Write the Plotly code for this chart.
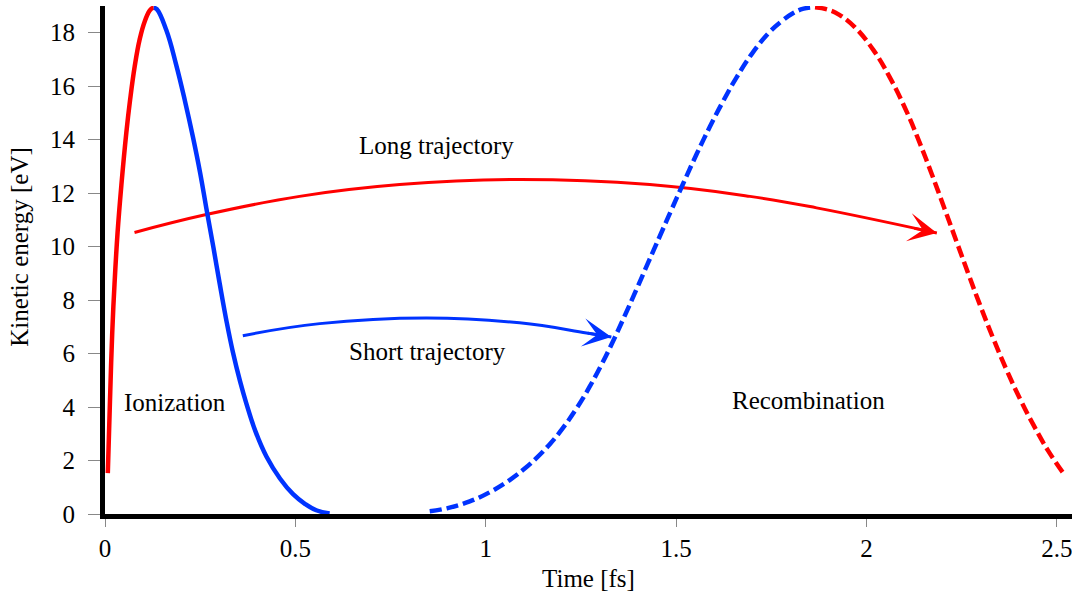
import plotly.graph_objects as go

# ---- data ----
red_solid_x = [0.0074, 0.013, 0.019, 0.025, 0.033, 0.043, 0.056, 0.066, 0.078, 0.091, 0.105, 0.117, 0.123, 0.128]
red_solid_y = [1.53, 4.2, 6.78, 8.6, 10.52, 12.3, 14.26, 15.5, 16.74, 17.75, 18.45, 18.82, 18.91, 18.93]

blue_solid_x = [0.128, 0.136, 0.161, 0.187, 0.21, 0.231, 0.25, 0.266, 0.285, 0.301, 0.32,
                0.336, 0.355, 0.371, 0.395, 0.424, 0.46, 0.494, 0.525, 0.555, 0.59]
blue_solid_y = [18.93, 18.88, 18.1, 16.8, 15.45, 14.1, 12.75, 11.45, 9.95, 8.64, 7.15,
                6.05, 4.95, 4.15, 3.1, 2.15, 1.32, 0.74, 0.38, 0.14, 0.02]

blue_dash_x = [0.853, 0.9, 0.958, 1.01, 1.063, 1.1, 1.133, 1.17, 1.203, 1.24, 1.273, 1.305,
               1.335, 1.365, 1.396, 1.427, 1.457, 1.488, 1.519, 1.555, 1.589, 1.624, 1.659,
               1.70, 1.746, 1.78, 1.808, 1.835, 1.865]
blue_dash_y = [0.10, 0.22, 0.47, 0.81, 1.27, 1.67, 2.09, 2.64, 3.22, 3.98, 4.76, 5.61,
               6.48, 7.41, 8.40, 9.41, 10.38, 11.38, 12.37, 13.49, 14.49, 15.45, 16.33,
               17.23, 18.03, 18.46, 18.74, 18.9, 18.95]

red_dash_x = [1.865, 1.90, 1.929, 1.97, 2.018, 2.06, 2.106, 2.14, 2.172, 2.205, 2.237,
              2.268, 2.298, 2.333, 2.369, 2.404, 2.438, 2.478, 2.517]
red_dash_y = [18.95, 18.86, 18.67, 18.2, 17.36, 16.37, 15.04, 13.88, 12.7, 11.43, 10.18,
              8.97, 7.83, 6.57, 5.36, 4.29, 3.35, 2.35, 1.53]

long_arrow_x = [0.0775, 0.266, 0.511, 0.774, 1.081, 1.431, 1.694, 1.869, 2.185]
long_arrow_y = [10.53, 11.2, 11.88, 12.32, 12.51, 12.32, 11.88, 11.45, 10.51]

short_arrow_x = [0.362, 0.564, 0.844, 1.089, 1.265, 1.330]
short_arrow_y = [6.67, 7.12, 7.33, 7.15, 6.77, 6.62]

x_ticks = [0, 0.5, 1, 1.5, 2, 2.5]
x_tick_labels = ["0", "0.5", "1", "1.5", "2", "2.5"]
y_ticks = [0, 2, 4, 6, 8, 10, 12, 14, 16, 18]

labels = ["Long trajectory", "Short trajectory", "Ionization", "Recombination"]
label_x = [0.870, 0.846, 0.185, 1.849]
label_y = [13.78, 6.07, 4.18, 4.24]

RED = "#FF0000"
BLUE = "#0033FF"
FONT = "Times New Roman, Liberation Serif, serif"

fig = go.Figure()

def add_line(x, y, color, width, dash="solid"):
    fig.add_trace(go.Scatter(x=x, y=y, mode="lines",
                             line=dict(color=color, width=width, dash=dash, shape="spline", smoothing=1.2),
                             showlegend=False, hoverinfo="skip"))

add_line(long_arrow_x, long_arrow_y, RED, 3)
add_line(short_arrow_x, short_arrow_y, BLUE, 3)
add_line(red_solid_x, red_solid_y, RED, 4.5)
add_line(blue_solid_x, blue_solid_y, BLUE, 4.5)
add_line(blue_dash_x, blue_dash_y, BLUE, 4.5, "12px,5px")
add_line(red_dash_x, red_dash_y, RED, 4.5, "12px,5px")

# arrow heads
fig.add_annotation(x=long_arrow_x[-1], y=long_arrow_y[-1], ax=-24, ay=-5,
                   xref="x", yref="y", showarrow=True, arrowhead=3, arrowsize=1.7,
                   arrowwidth=2.8, arrowcolor=RED, text="", standoff=0)
fig.add_annotation(x=short_arrow_x[-1], y=short_arrow_y[-1], ax=-25, ay=-4,
                   xref="x", yref="y", showarrow=True, arrowhead=3, arrowsize=1.7,
                   arrowwidth=2.8, arrowcolor=BLUE, text="", standoff=0)

for t, lx, ly in zip(labels, label_x, label_y):
    fig.add_annotation(x=lx, y=ly, text=t, showarrow=False, xref="x", yref="y",
                       font=dict(family=FONT, size=25, color="black"),
                       xanchor="center", yanchor="middle")

# y axis title
fig.add_annotation(text="Kinetic energy [eV]", xref="paper", yref="paper",
                   x=-0.088, y=0.526, showarrow=False, textangle=-90,
                   font=dict(family=FONT, size=25, color="black"),
                   xanchor="center", yanchor="middle")

fig.update_layout(
    width=1072, height=594,
    margin=dict(l=105, r=0, t=6, b=80),
    paper_bgcolor="white", plot_bgcolor="white",
    font=dict(family=FONT, size=25, color="black"),
    xaxis=dict(range=[0, 2.54], tickvals=x_ticks, ticktext=x_tick_labels,
               showline=True, linecolor="black", linewidth=5, mirror=False,
               ticks="outside", ticklen=8, tickwidth=1, tickcolor="#888888",
               showgrid=False, zeroline=False, ticklabeloverflow="allow",
               title=dict(text="Time [fs]", standoff=10,
                          font=dict(family=FONT, size=25, color="black"))),
    yaxis=dict(range=[0, 19], tickvals=y_ticks,
               showline=True, linecolor="black", linewidth=5,
               ticks="outside", ticklen=12, tickwidth=1, tickcolor="#888888",
               showgrid=False, zeroline=False, ticklabelstandoff=8),
)

fig.write_html("out.html")
